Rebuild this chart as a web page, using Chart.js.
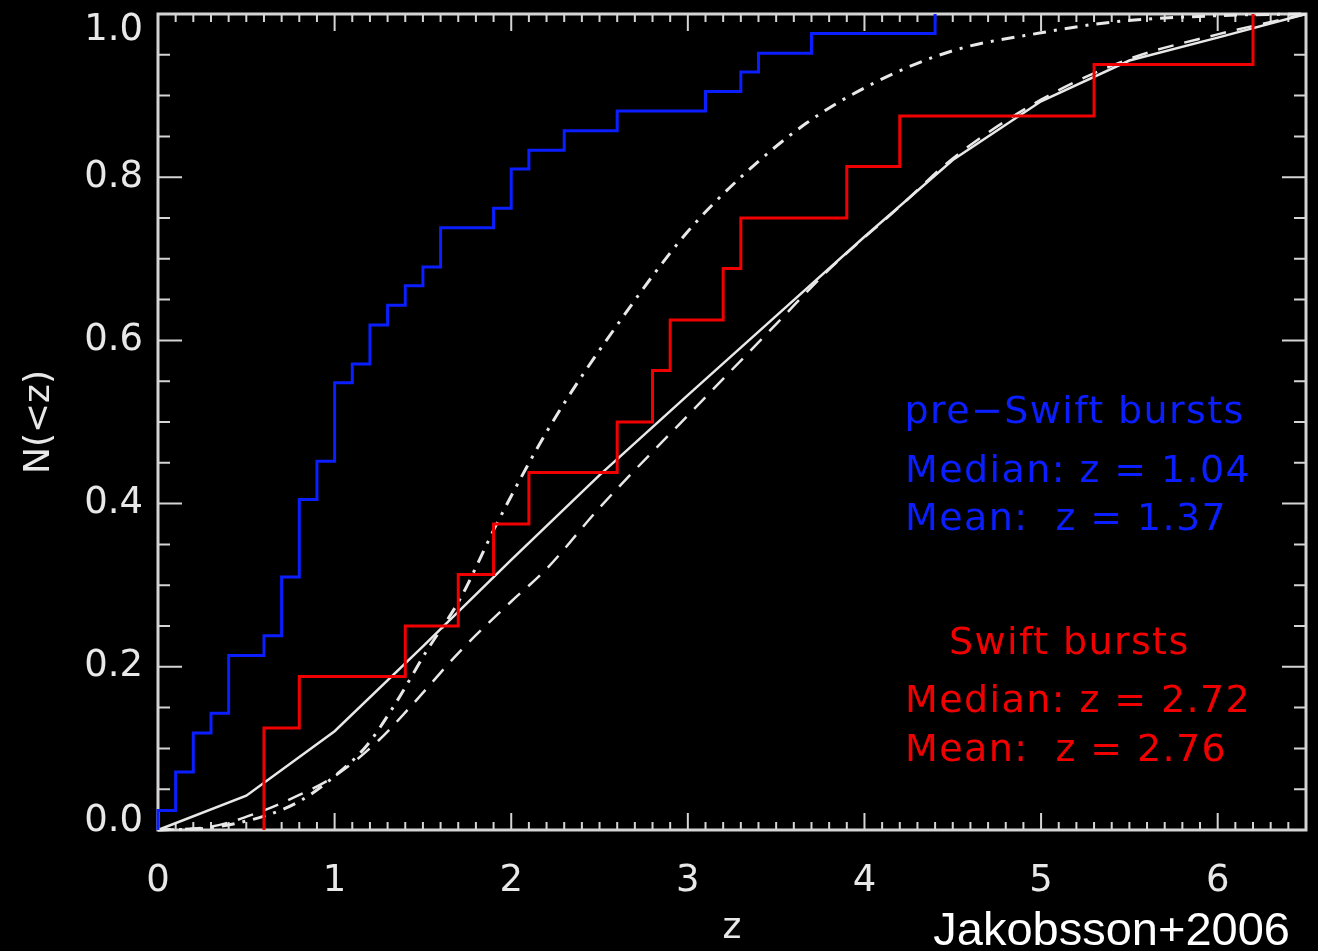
<!DOCTYPE html>
<html>
<head>
<meta charset="utf-8">
<script src="https://cdn.jsdelivr.net/npm/chart.js@4.4.0/dist/chart.umd.min.js"></script>
<style>
  html, body { margin: 0; padding: 0; background: #000; }
  #wrap { width: 1318px; height: 951px; }
</style>
</head>
<body>
<div id="wrap"><canvas id="cumz"></canvas></div>
<script>
  // pre-Swift bursts: cumulative redshift distribution (step)
  const preSwiftZ = [0, 0, 0.1, 0.2, 0.3, 0.4, 0.6, 0.7, 0.8, 0.9, 1.0, 1.1, 1.2, 1.3, 1.4, 1.5, 1.6, 1.9, 2.0, 2.1, 2.3, 2.6, 3.1, 3.3, 3.4, 3.7, 4.4];
  const preSwiftN = [0, 0.024, 0.071, 0.119, 0.143, 0.214, 0.238, 0.310, 0.405, 0.452, 0.548, 0.571, 0.619, 0.643, 0.667, 0.690, 0.738, 0.762, 0.810, 0.833, 0.857, 0.881, 0.905, 0.929, 0.952, 0.976, 1.0];

  // Swift bursts (step)
  const swiftZ = [0.6, 0.6, 0.8, 1.4, 1.7, 1.9, 2.1, 2.6, 2.8, 2.9, 3.2, 3.3, 3.9, 4.2, 5.3, 6.2];
  const swiftN = [0, 0.125, 0.188, 0.25, 0.313, 0.375, 0.438, 0.5, 0.563, 0.625, 0.688, 0.75, 0.813, 0.875, 0.938, 1.0];

  // model curves (white)
  const solidZ = [0, 0.5, 1.0, 1.5, 2.0, 2.5, 3.0, 3.5, 4.0, 4.5, 5.0, 5.5, 6.0, 6.5];
  const solidN = [0, 0.042, 0.121, 0.225, 0.331, 0.435, 0.533, 0.630, 0.727, 0.821, 0.893, 0.943, 0.971, 1.0];

  const dashedZ = [0, 0.3, 0.55, 0.8, 1.0, 1.25, 1.45, 1.71, 2.0, 2.2, 2.5, 3.0, 3.5, 3.8, 4.2, 4.5, 5.0, 5.5, 6.0, 6.5];
  const dashedN = [0, 0.004, 0.02, 0.043, 0.066, 0.11, 0.156, 0.219, 0.28, 0.32, 0.395, 0.508, 0.62, 0.687, 0.764, 0.823, 0.895, 0.945, 0.975, 1.0];

  const dashDotZ = [0, 0.3, 0.6, 0.8, 1.0, 1.18, 1.33, 1.52, 1.71, 1.92, 2.22, 2.62, 2.99, 3.3, 3.67, 4.05, 4.5, 5.0, 5.4, 6.0, 6.5];
  const dashDotN = [0, 0.003, 0.017, 0.035, 0.066, 0.103, 0.15, 0.219, 0.283, 0.376, 0.495, 0.625, 0.731, 0.80, 0.866, 0.915, 0.955, 0.977, 0.99, 0.998, 1.0];

  const xTickLabels = [0, 1, 2, 3, 4, 5, 6];
  const yTickLabels = [0.0, 0.2, 0.4, 0.6, 0.8, 1.0];

  const blue = '#0a1eff';
  const red = '#f00000';
  const white = '#e8e8e8';
  const axisColor = '#d4d4d4';

  const pts = (xs, ys) => xs.map((v, i) => ({x: v, y: ys[i]}));

  // IDL puts the end labels inside the axis range
  const yLabel = v => {
    const s = v.toFixed(1);
    if (v >= 1) return ['', '', s];
    if (v <= 0) return [s, ''];
    return s;
  };

  // frame + inward ticks on all four sides, like the IDL plot
  const frameTicks = {
    id: 'frameTicks',
    beforeDatasetsDraw(chart) {
      const {ctx, chartArea: a, scales: {x, y}} = chart;
      ctx.save();
      ctx.strokeStyle = axisColor;
      ctx.lineWidth = 2;
      ctx.beginPath();
      for (let i = 0; i <= 65; i++) {
        const px = x.getPixelForValue(i / 10);
        const len = i % 10 === 0 ? 17 : 8;
        ctx.moveTo(px, a.bottom); ctx.lineTo(px, a.bottom - len);
        ctx.moveTo(px, a.top); ctx.lineTo(px, a.top + len);
      }
      for (let j = 0; j <= 20; j++) {
        const py = y.getPixelForValue(j / 20);
        const len = j % 4 === 0 ? 24 : 12;
        ctx.moveTo(a.left, py); ctx.lineTo(a.left + len, py);
        ctx.moveTo(a.right, py); ctx.lineTo(a.right - len, py);
      }
      ctx.stroke();
      ctx.lineWidth = 3;
      ctx.strokeRect(a.left, a.top, a.right - a.left, a.bottom - a.top);
      ctx.restore();
    },
    afterDraw(chart) {
      const {ctx, scales: {x, y}} = chart;
      ctx.save();
      ctx.font = '38px "DejaVu Sans"';
      ctx.letterSpacing = '1.4px';
      ctx.textBaseline = 'alphabetic';
      const left = x.getPixelForValue(4.23);
      ctx.fillStyle = blue;
      ctx.textAlign = 'center';
      ctx.fillText('pre\u2212Swift bursts', x.getPixelForValue(5.19), y.getPixelForValue(0.499));
      ctx.textAlign = 'left';
      ctx.fillText('Median: z = 1.04', left, y.getPixelForValue(0.427));
      ctx.fillText('Mean:  z = 1.37', left, y.getPixelForValue(0.3675));
      ctx.fillStyle = red;
      ctx.textAlign = 'center';
      ctx.fillText('Swift bursts', x.getPixelForValue(5.16), y.getPixelForValue(0.2152));
      ctx.textAlign = 'left';
      ctx.fillText('Median: z = 2.72', left, y.getPixelForValue(0.144));
      ctx.fillText('Mean:  z = 2.76', left, y.getPixelForValue(0.084));

      ctx.letterSpacing = '0px';
      ctx.fillStyle = '#ffffff';
      ctx.font = '47px "Liberation Sans"';
      ctx.textAlign = 'right';
      ctx.fillText('Jakobsson+2006', 1290, 945);
      ctx.restore();
    }
  };

  new Chart(document.getElementById('cumz'), {
    type: 'line',
    data: {
      datasets: [
        {
          label: 'pre-Swift bursts',
          data: pts(preSwiftZ, preSwiftN),
          borderColor: blue,
          borderWidth: 3,
          stepped: 'before',
          pointRadius: 0,
          clip: false
        },
        {
          label: 'Swift bursts',
          data: pts(swiftZ, swiftN),
          borderColor: red,
          borderWidth: 3,
          stepped: 'before',
          pointRadius: 0,
          clip: false
        },
        {
          label: 'model (solid)',
          data: pts(solidZ, solidN),
          borderColor: white,
          borderWidth: 2.5,
          pointRadius: 0,
          tension: 0,
          clip: false
        },
        {
          label: 'model (dashed)',
          data: pts(dashedZ, dashedN),
          borderColor: white,
          borderWidth: 2.5,
          borderDash: [16, 11],
          pointRadius: 0,
          cubicInterpolationMode: 'monotone',
          clip: false
        },
        {
          label: 'model (dash-dot)',
          data: pts(dashDotZ, dashDotN),
          borderColor: white,
          borderWidth: 3,
          borderDash: [13, 8, 3, 8],
          pointRadius: 0,
          cubicInterpolationMode: 'monotone',
          clip: false
        }
      ]
    },
    options: {
      responsive: true,
      maintainAspectRatio: false,
      animation: false,
      layout: { padding: { top: 14, right: 12, left: 0, bottom: 0 } },
      plugins: { legend: { display: false }, tooltip: { enabled: false } },
      scales: {
        x: {
          type: 'linear',
          min: 0,
          max: 6.5,
          grid: { display: false, drawTicks: false },
          border: { display: false },
          afterBuildTicks: s => { s.ticks = xTickLabels.map(v => ({value: v})); },
          ticks: { color: white, font: {family: 'DejaVu Sans', size: 37}, padding: 29, maxRotation: 0 },
          title: { display: true, text: 'z', color: white, font: {family: 'DejaVu Sans', size: 36}, padding: {top: 0, bottom: 1} },
          afterFit: s => { s.height = 121; s.paddingLeft = 0; s.paddingRight = 0; }
        },
        y: {
          type: 'linear',
          min: 0,
          max: 1,
          grid: { display: false, drawTicks: false },
          border: { display: false },
          afterBuildTicks: s => { s.ticks = yTickLabels.map(v => ({value: v})); },
          ticks: { color: white, font: {family: 'DejaVu Sans', size: 37, lineHeight: 0.45}, padding: 15, callback: yLabel },
          title: { display: true, text: 'N(<z)', color: white, font: {family: 'DejaVu Sans', size: 36}, padding: {top: 18, bottom: 0} },
          afterFit: s => { s.width = 158; s.paddingTop = 0; s.paddingBottom = 0; }
        }
      }
    },
    plugins: [frameTicks]
  });
</script>
</body>
</html>
